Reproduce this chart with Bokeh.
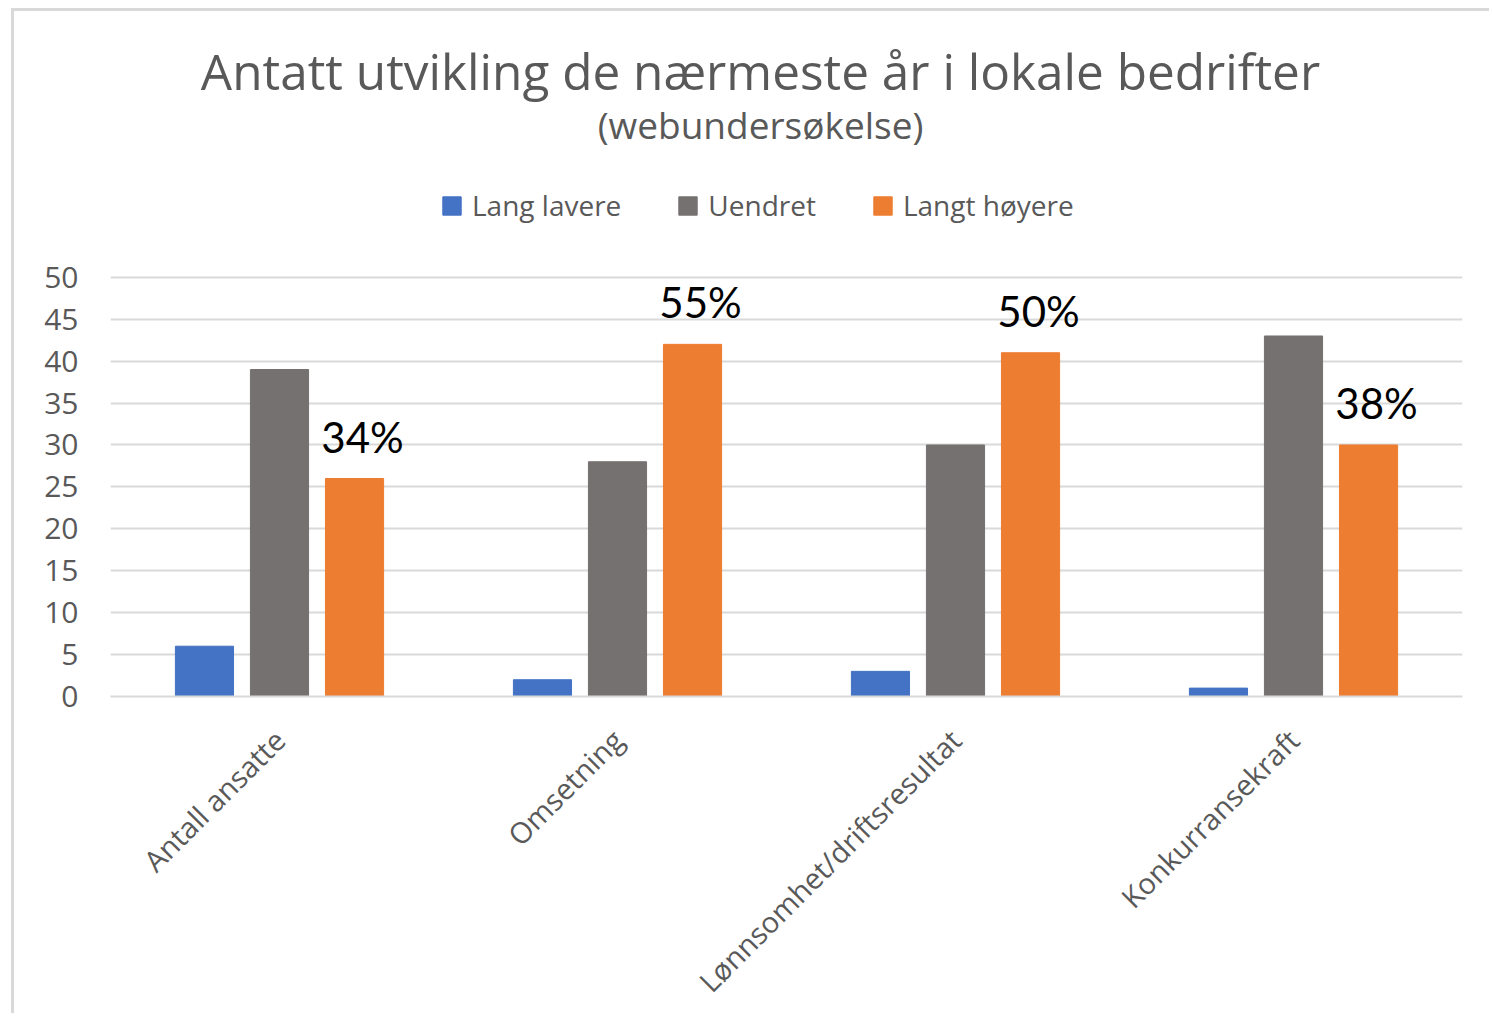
import math
from bokeh.plotting import figure
from bokeh.models import ColumnDataSource, FactorRange, Label, LabelSet, Legend, LegendItem, FixedTicker
from bokeh.transform import dodge
from bokeh.core.properties import value
from bokeh.embed import file_html
from bokeh.resources import INLINE

# ---- data ----
categories = ["Antall ansatte", "Omsetning", "Lønnsomhet/driftsresultat", "Konkurransekraft"]
series_names = ["Lang lavere", "Uendret", "Langt høyere"]
lang_lavere = [6, 2, 3, 1]
uendret = [39, 28, 30, 43]
langt_hoyere = [26, 42, 41, 30]
pct_labels = ["34%", "55%", "50%", "38%"]
y_ticks = [0, 5, 10, 15, 20, 25, 30, 35, 40, 45, 50]

title_text = "Antatt utvikling de nærmeste år i lokale bedrifter"
subtitle_text = "(webundersøkelse)"

colors = ["#4472C4", "#767171", "#ED7D31"]
TEXT_GRAY = "#595959"
FONT = "Open Sans"

src = ColumnDataSource(dict(cat=categories, lav=lang_lavere, uen=uendret, hoy=langt_hoyere, pct=pct_labels))

# the frame extends upward (headroom above 50) so title and legend can live inside it
p = figure(width=1478, height=1005, x_range=FactorRange(*categories), y_range=(0, 81.70),
           output_backend="svg", toolbar_location=None,
           min_border_left=96, min_border_right=30, min_border_top=0, min_border_bottom=312)
p.margin = (8, 0, 0, 11)
p.styles = {"border-left": "3px solid #d9d9d9", "border-top": "3px solid #d9d9d9"}
p.outline_line_color = None
p.background_fill_color = "white"
p.border_fill_color = "white"

bw = 0.172
off = 0.222
r1 = p.vbar(x=dodge("cat", -off, range=p.x_range), top="lav", width=bw, source=src,
            fill_color=colors[0], line_color=colors[0])
r2 = p.vbar(x=dodge("cat", 0.0, range=p.x_range), top="uen", width=bw, source=src,
            fill_color=colors[1], line_color=colors[1])
r3 = p.vbar(x=dodge("cat", off, range=p.x_range), top="hoy", width=bw, source=src,
            fill_color=colors[2], line_color=colors[2])

labels = LabelSet(x=dodge("cat", off, range=p.x_range), y="hoy", text="pct", source=src,
                  x_offset=8, y_offset=26, text_align="center", text_baseline="alphabetic",
                  text_font=value("Lato"), text_font_size="42px", text_color="black")
p.add_layout(labels)

# axes
p.yaxis.ticker = FixedTicker(ticks=y_ticks)
p.yaxis.axis_line_color = None
p.yaxis.major_tick_line_color = None
p.yaxis.minor_tick_line_color = None
p.yaxis.major_label_text_font = FONT
p.yaxis.major_label_text_font_size = "30px"
p.yaxis.major_label_text_color = TEXT_GRAY
p.yaxis.major_label_standoff = 26

p.xaxis.axis_line_color = "#d9d9d9"
p.xaxis.axis_line_width = 2
p.xaxis.major_tick_line_color = None
p.xaxis.minor_tick_line_color = None
p.xaxis.major_label_orientation = math.pi / 4
p.xaxis.major_label_text_font = FONT
p.xaxis.major_label_text_font_size = "29px"
p.xaxis.major_label_text_color = TEXT_GRAY
p.xaxis.major_label_standoff = 32

p.xgrid.grid_line_color = None
p.ygrid.grid_line_color = "#d9d9d9"
p.ygrid.grid_line_width = 2
p.ygrid.ticker = FixedTicker(ticks=y_ticks)

# title / subtitle
p.add_layout(Label(x=650, y=626, x_units="screen", y_units="screen", text=title_text,
                   text_align="center", text_baseline="middle", text_font=FONT,
                   text_font_size="49.5px", text_color=TEXT_GRAY))
p.add_layout(Label(x=650, y=572, x_units="screen", y_units="screen", text=subtitle_text,
                   text_align="center", text_baseline="middle", text_font=FONT,
                   text_font_size="37px", text_color=TEXT_GRAY))

legend = Legend(items=[LegendItem(label=series_names[0], renderers=[r1]),
                       LegendItem(label=series_names[1], renderers=[r2]),
                       LegendItem(label=series_names[2], renderers=[r3])],
                orientation="horizontal", location=(330, 472),
                label_text_font=FONT, label_text_font_size="28px", label_text_color=TEXT_GRAY,
                glyph_width=23, glyph_height=23, label_standoff=9, spacing=55,
                padding=0, margin=0, border_line_color=None, background_fill_alpha=0)
p.add_layout(legend, "center")

open("out.html", "w").write(file_html(p, INLINE))
